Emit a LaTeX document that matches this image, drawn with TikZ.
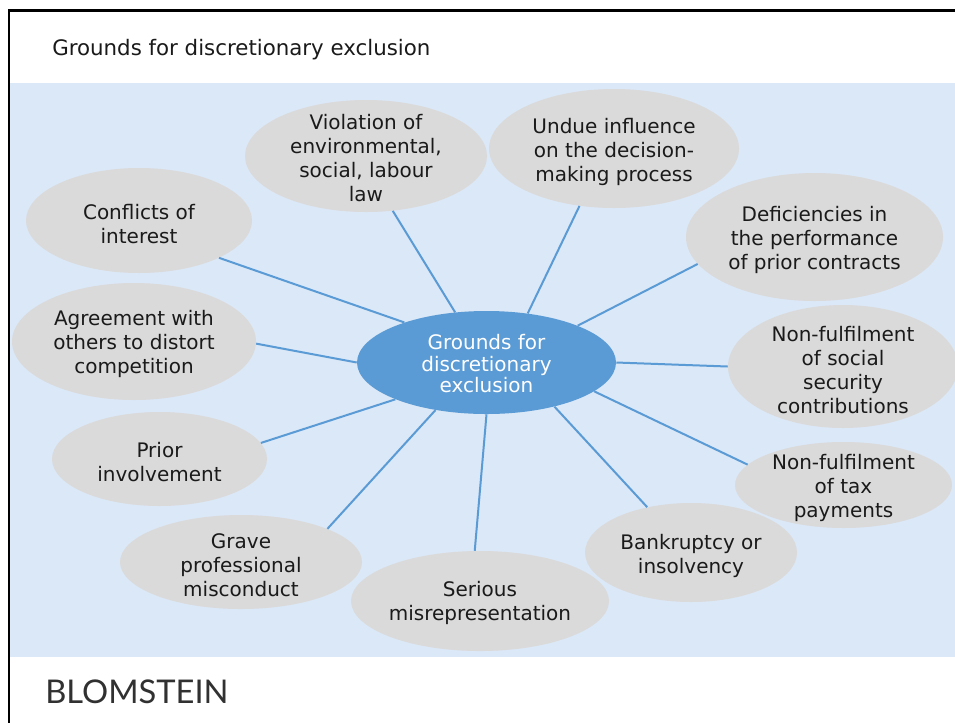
\documentclass[tikz,border=0pt]{standalone}
\usepackage{fontspec}
\setmainfont{DejaVu Sans}
\newfontfamily\logofont{Lato}
\usetikzlibrary{shapes.geometric}
\definecolor{bgblue}{HTML}{DAE8F7}
\definecolor{hubblue}{HTML}{5B9BD5}
\definecolor{petal}{HTML}{DADADA}
\definecolor{ink}{HTML}{1A1A1A}
\begin{document}
\begin{tikzpicture}[x=0.75pt,y=-0.75pt,
  petalshape/.style={ellipse, fill=petal, inner sep=0pt},
  sz/.style 2 args={minimum width=#1*0.75pt, minimum height=#2*0.75pt},
  txt/.style={align=center, font=\fontsize{15}{18}\selectfont, text=ink, inner sep=0pt, yshift=-1.3pt},
  hubtxt/.style={align=center, font=\fontsize{15}{16}\selectfont, text=white, inner sep=0pt, yshift=-0.6pt},
  link/.style={draw=hubblue, line width=1.5pt}]
\useasboundingbox (0,0) rectangle (955,722);
\clip (0,0) rectangle (955,722);
\fill[white] (0,0) rectangle (955,722);
\fill[bgblue] (10,83) rectangle (960,657);
\draw[line width=1.8pt] (9,10.5) rectangle (1000,800);

\node[anchor=base west, font=\fontsize{16}{19}\selectfont, text=ink, inner sep=0pt] (title) at (52,55) {Grounds for discretionary exclusion};
\node[anchor=base west, font=\logofont\fontsize{24.5}{28}\selectfont, text=ink!90, inner sep=0pt] (logo) at (45,703) {BLOMSTEIN};

% hub
\node[ellipse, fill=hubblue, inner sep=0pt, sz={259}{103}] (hub) at (486.5,362.5) {};
\node[hubtxt] (hubt) at (486.5,363) {Grounds for\\discretionary\\exclusion};

% petals
\node[petalshape, sz={242}{112}] (viol) at (366,156) {};
\node[txt] (violt) at (366,156) {Violation of\\environmental,\\social, labour\\law};

\node[petalshape, sz={250}{119}] (undue) at (614,148.5) {};
\node[txt] (unduet) at (614,150) {Undue influence\\on the decision-\\making process};

\node[petalshape, sz={226}{105}] (confl) at (139,220.5) {};
\node[txt] (conflt) at (139,222) {Conflicts of\\interest};

\node[petalshape, sz={257}{128}] (defic) at (814.5,237) {};
\node[txt] (defict) at (814.5,238) {Deficiencies in\\the performance\\of prior contracts};

\node[petalshape, sz={244}{117}] (agree) at (134,341.5) {};
\node[txt] (agreet) at (134,342) {Agreement with\\others to distort\\competition};

\node[petalshape, sz={230}{123}] (social) at (843,366.5) {};
\node[txt] (socialt) at (843,368) {Non-fulfilment\\of social\\security\\contributions};

\node[petalshape, sz={217}{86}] (tax) at (843.5,485) {};
\node[txt] (taxt) at (843.5,486) {Non-fulfilment\\of tax\\payments};

\node[petalshape, sz={215}{94}] (prior) at (159.5,459) {};
\node[txt] (priort) at (159.5,460) {Prior\\involvement};

\node[petalshape, sz={242}{94}] (grave) at (241,562) {};
\node[txt] (gravet) at (241,563) {Grave\\professional\\misconduct};

\node[petalshape, sz={258}{100}] (serious) at (480,601) {};
\node[txt] (serioust) at (480,601) {Serious\\misrepresentation};

\node[petalshape, sz={212}{99}] (bankr) at (691,552.5) {};
\node[txt] (bankrt) at (691,554) {Bankruptcy or\\insolvency};

% connectors
\draw[link] (confl.-25.1) -- (hub.154.8);
\draw[link] (viol.-64.2) -- (hub.122.9);
\draw[link] (undue.-121.8) -- (hub.50.3);
\draw[link] (defic.193.5) -- (hub.22.3);
\draw[link] (agree.-1) -- (hub.180);
\draw[link] (social.180) -- (hub.0);
\draw[link] (tax.168.4) -- (hub.-15.1);
\draw[link] (prior.9.4) -- (hub.-158.9);
\draw[link] (grave.21.4) -- (hub.223.1);
\draw[link] (serious.96.4) -- (hub.270);
\draw[link] (bankr.134.2) -- (hub.-33);
\end{tikzpicture}
\end{document}
